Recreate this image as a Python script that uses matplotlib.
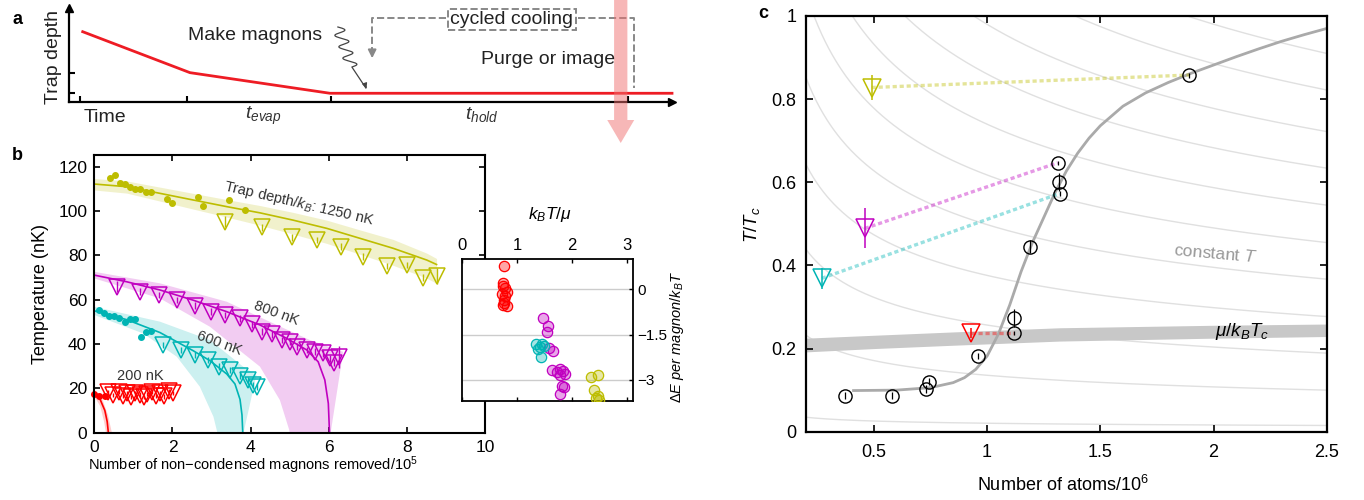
import matplotlib
matplotlib.use('Agg')
import matplotlib.pyplot as plt
from matplotlib.patches import FancyArrow
import numpy as np

plt.rcParams['font.family'] = ['Liberation Sans', 'DejaVu Sans']
plt.rcParams['mathtext.fontset'] = 'custom'
plt.rcParams['mathtext.rm'] = 'Liberation Sans'
plt.rcParams['mathtext.it'] = 'Liberation Sans:italic'

W, H = 1364, 500
YEL = '#bdbd00'
CYA = '#00b4b4'
MAG = '#c000c0'
RED = '#ff0000'

# ---------------- panel a: trap depth schedule (arbitrary units)
sched_t = [0.025, 1.025, 2.33, 5.52]
sched_depth = [0.747, 0.31, 0.09, 0.09]
a_xticks = [0, 1, 2.34, 5.11]
a_yticks = [0.09, 0.31]

# ---------------- panel b: temperature vs magnons removed (1e5)
yel_dot_x = [0.40, 0.53, 0.66, 0.78, 0.91, 1.04, 1.17, 1.32, 1.45, 1.85, 2.00, 2.66, 2.79, 3.46, 3.86]
yel_dot_y = [114.7, 116.4, 112.5, 112.0, 111.0, 110.1, 109.8, 108.5, 108.4, 105.4, 103.5, 106.2, 102.1, 104.8, 100.3]
yel_tri_x = [3.34, 4.28, 5.05, 5.71, 6.31, 6.87, 7.48, 8.00, 8.41, 8.76]
yel_tri_y = [95.2, 92.6, 88.1, 86.9, 83.9, 79.4, 75.2, 75.6, 69.9, 70.7]
yel_tri_err = [2.5, 1.5, 1.5, 1.5, 1.5, 1.5, 1.5, 1.5, 1.5, 3.5]
yel_fit_x = [0, 0.83, 1.68, 2.53, 3.39, 4.24, 5.09, 5.95, 6.80, 7.65, 8.51, 8.76]
yel_fit_y = [112.2, 111.0, 108.0, 105.0, 102.0, 99.2, 95.9, 92.2, 87.7, 83.2, 77.9, 75.9]
yel_band_hi = [114.7, 113.6, 110.8, 108.0, 105.2, 102.5, 99.4, 95.9, 91.5, 87.2, 81.0, 78.6]
yel_band_lo = [109.5, 108.1, 104.5, 100.9, 97.3, 93.6, 89.6, 85.4, 80.5, 75.5, 69.7, 67.4]

mag_tri_x = [0.59, 1.17, 1.66, 2.12, 2.58, 2.99, 3.34, 3.73, 4.03, 4.28, 4.54, 4.80, 5.01, 5.20, 5.44, 5.65, 5.86, 6.03, 6.13, 6.27]
mag_tri_y = [65.9, 63.6, 62.1, 59.8, 57.3, 54.6, 53.1, 51.6, 48.9, 45.6, 44.4, 41.8, 41.1, 38.8, 37.3, 36.5, 35.8, 33.5, 31.6, 34.3]
mag_tri_err = [2.5] + [1.5] * 18 + [5.0]
mag_fit_x = [0, 0.83, 1.68, 2.53, 3.39, 4.24, 4.92, 5.44, 5.73, 5.90, 5.99, 6.02]
mag_fit_y = [71.1, 68.1, 64.4, 59.8, 54.6, 48.6, 42.6, 37.3, 32.0, 23.8, 13.2, 0]
mag_hi_x = [0, 1.68, 3.39, 4.67, 5.52, 6.37, 6.05]
mag_hi_y = [72.6, 67.4, 59.1, 48.6, 41.8, 36.5, 0]
mag_lo_x = [0, 1.68, 2.96, 4.24, 4.75, 4.99, 5.0]
mag_lo_y = [69.6, 60.6, 47.8, 29.8, 14.7, 1.2, 0]

cya_dot_x = [0.13, 0.26, 0.38, 0.51, 0.64, 0.78, 0.91, 1.04, 1.19, 1.32, 1.44]
cya_dot_y = [55.3, 53.8, 52.8, 52.8, 51.9, 50.1, 51.1, 51.3, 43.3, 45.4, 45.7]
cya_tri_x = [1.75, 2.21, 2.58, 2.92, 3.20, 3.47, 3.73, 3.94, 4.07, 4.17]
cya_tri_y = [39.5, 37.3, 35.0, 32.8, 29.8, 28.3, 25.7, 23.8, 21.5, 20.8]
cya_fit_x = [0, 0.83, 1.68, 2.53, 2.96, 3.39, 3.60, 3.73, 3.78, 3.80]
cya_fit_y = [55.0, 51.0, 45.2, 37.0, 32.5, 26.5, 22.0, 15.0, 8.0, 0]
cya_hi_x = [0, 1.68, 2.96, 3.81, 4.15, 3.82]
cya_hi_y = [56.8, 50.1, 41.8, 29.8, 26.0, 0]
cya_lo_x = [0, 1.25, 2.11, 2.70, 3.05, 3.15]
cya_lo_y = [53.1, 44.8, 34.3, 20.8, 7.2, 0]

red_dot_x = [0.0, 0.13, 0.27]
red_dot_y = [17.5, 16.6, 16.7]
red_tri_x = [0.36, 0.49, 0.62, 0.73, 0.83, 0.94, 1.05, 1.16, 1.26, 1.36, 1.47, 1.58, 1.69, 1.79, 1.90, 2.01]
red_tri_y = [18.2, 17.0, 18.5, 16.5, 17.8, 16.2, 18.0, 17.2, 16.0, 17.5, 18.3, 16.6, 17.9, 16.4, 18.6, 17.8]
red_fit_x = [0, 0.15, 0.27, 0.33, 0.36]
red_fit_y = [17.5, 15.0, 10.0, 5.0, 0]
red_hi_x = [0, 0.2, 0.35, 0.45]
red_hi_y = [18.5, 15.5, 8.0, 0]
red_lo_x = [0, 0.15, 0.25, 0.30]
red_lo_y = [16.5, 12.0, 5.0, 0]

# ---------------- inset: energy per magnon vs kT/mu
in_red_x = [0.76, 0.75, 0.75, 0.78, 0.82, 0.72, 0.79, 0.76, 0.76, 0.82, 0.75]
in_red_y = [0.76, 0.22, 0.11, 0.03, -0.08, -0.15, -0.22, -0.35, -0.46, -0.55, -0.51]
in_mag_x = [1.48, 1.56, 1.54, 1.58, 1.65, 1.64, 1.72, 1.79, 1.84, 1.87, 1.78, 1.81, 1.85, 1.79]
in_mag_y = [-0.95, -1.21, -1.40, -1.93, -2.06, -2.67, -2.75, -2.64, -2.72, -2.80, -2.83, -3.22, -3.24, -3.47]
in_cya_x = [1.35, 1.41, 1.45, 1.38, 1.49, 1.44]
in_cya_y = [-1.81, -1.90, -1.81, -1.97, -1.87, -2.23]
in_yel_x = [2.35, 2.47, 2.40, 2.44, 2.49, 2.47]
in_yel_y = [-2.89, -2.83, -3.35, -3.61, -3.66, -3.55]

# ---------------- panel c: T/Tc vs atom number (1e6)
circ_x = [0.372, 0.578, 0.728, 0.743, 0.960, 1.118, 1.118, 1.188, 1.312, 1.317, 1.320, 1.893]
circ_y = [0.087, 0.087, 0.103, 0.120, 0.182, 0.273, 0.237, 0.445, 0.647, 0.601, 0.573, 0.858]
circ_err = [0.008, 0.008, 0.01, 0.008, 0.008, 0.022, 0.005, 0.015, 0.005, 0.022, 0.005, 0.006]
c_tri_x = [0.49, 0.46, 0.27, 0.93]
c_tri_y = [0.828, 0.489, 0.369, 0.237]
c_tri_err = [0.03, 0.048, 0.025, 0.012]
c_tri_col = [YEL, MAG, CYA, RED]
c_link_end = [11, 8, 10, 6]  # circle reached by each dotted link
curve_x = [0.41, 0.60, 0.75, 0.85, 0.90, 0.95, 1.00, 1.05, 1.10, 1.15, 1.20, 1.25, 1.30,
           1.35, 1.40, 1.45, 1.50, 1.60, 1.70, 1.80, 1.90, 2.00, 2.10, 2.20, 2.30, 2.40, 2.50]
curve_y = [0.099, 0.100, 0.106, 0.118, 0.130, 0.150, 0.182, 0.235, 0.305, 0.385, 0.455, 0.515, 0.575,
           0.627, 0.670, 0.706, 0.736, 0.783, 0.815, 0.840, 0.862, 0.882, 0.902, 0.921, 0.939, 0.955, 0.970]
mu_x = [0.2, 0.5, 0.85, 1.32, 2.0, 2.5]
mu_lo = [0.192, 0.200, 0.208, 0.218, 0.225, 0.229]
mu_hi = [0.225, 0.232, 0.240, 0.250, 0.256, 0.259]
# isotherm levels, read as T/Tc at N = 2.5e6 (Tc ~ N^(1/3))
iso_levels = [0.015, 0.100, 0.189, 0.277, 0.367, 0.455, 0.545, 0.634, 0.722, 0.822, 0.91, 1.0]


def fig_rect(x0, y0, x1, y1):
    return [x0 / W, 1 - y1 / H, (x1 - x0) / W, (y1 - y0) / H]


fig = plt.figure(figsize=(W / 100, H / 100), dpi=100)

# ================= panel a
ax_a = fig.add_axes(fig_rect(69.3, 8, 672, 101.7))
ax_a.set_xlim(-0.1, 5.52)
ax_a.set_ylim(0, 1)
for s in ['top', 'right']:
    ax_a.spines[s].set_visible(False)
for s in ['left', 'bottom']:
    ax_a.spines[s].set_linewidth(1.6)
ax_a.plot(1, 0, '>k', ms=6, transform=ax_a.transAxes, clip_on=False)
ax_a.plot(0, 1, '^k', ms=6, transform=ax_a.transAxes, clip_on=False)
ax_a.set_xticks(a_xticks)
ax_a.set_yticks(a_yticks)
ax_a.set_xticklabels([])
ax_a.set_yticklabels([])
ax_a.tick_params(direction='in', length=4, width=1.5)
ax_a.plot(sched_t, sched_depth, color='#ee1c24', lw=2, clip_on=False, zorder=3)


def pa(px, py):
    return (px - 80) / 107.3, (101.7 - py) / 93.7


ax_a.text(*pa(53, 57), 'Trap depth', rotation=90, fontsize=14, ha='center', va='center', color='#222222')
ax_a.text(*pa(105, 117), 'Time', fontsize=14, ha='center', va='center', color='#222222')
ax_a.text(*pa(263, 116), r'$t_{evap}$', fontsize=14, ha='center', va='center', color='#333333')
ax_a.text(*pa(482, 115), r'$t_{hold}$', fontsize=14, ha='center', va='center', color='#333333')
ax_a.text(*pa(255, 36), 'Make magnons', fontsize=14, ha='center', va='center', color='#222222')
ax_a.text(*pa(548, 60), 'Purge or image', fontsize=14, ha='center', va='center', color='#222222')
ax_a.text(*pa(512, 19.5), 'cycled cooling', fontsize=14, ha='center', va='center', color='#222222', zorder=5,
          bbox=dict(boxstyle='square,pad=0.12', fc='white', ec='#888888', ls='--', lw=1.4))

gx, gy = zip(*[pa(446, 18.3), pa(372.3, 18.3), pa(372.3, 50)])
ax_a.plot(gx, gy, color='#888888', ls='--', lw=1.4, clip_on=False)
ax_a.annotate('', xy=pa(372.3, 61), xytext=pa(372.3, 48), annotation_clip=False,
              arrowprops=dict(arrowstyle='-|>', color='#888888', lw=1.4, mutation_scale=12))
gx, gy = zip(*[pa(578, 18.3), pa(634.3, 18.3), pa(634.3, 88.3)])
ax_a.plot(gx, gy, color='#888888', ls='--', lw=1.4, clip_on=False)

# squiggle for "make magnons"
s = np.linspace(0, 1, 200)
sq_px = 338 + 6 * np.sin(2 * np.pi * 3.5 * s) + 14 * s
sq_py = 27 + 40 * s
tail_px = np.linspace(sq_px[-1], 366, 30)
tail_py = np.linspace(sq_py[-1], 88, 30)
qx, qy = pa(np.concatenate([sq_px, tail_px]), np.concatenate([sq_py, tail_py]))
ax_a.plot(qx, qy, color='#444444', lw=0.9, clip_on=False)
ax_a.annotate('', xy=pa(367.5, 91), xytext=pa(365, 84), annotation_clip=False,
              arrowprops=dict(arrowstyle='-|>', color='#444444', lw=0.9, mutation_scale=7))

# pink purge arrow
x0, ytop = pa(621, 0)
_, ytip = pa(621, 143)
_, yhead = pa(621, 120)
ax_a.add_patch(FancyArrow(x0, ytop, 0, ytip - ytop, width=13.3 / 107.3, head_width=27 / 107.3,
                          head_length=yhead - ytip, length_includes_head=True,
                          color='#f07070', alpha=0.5, lw=0, clip_on=False, zorder=6))
fig.text(12 / W, 1 - 20 / H, 'a', fontsize=13, fontweight='bold', va='center')

# ================= panel b
ax_b = fig.add_axes(fig_rect(94.3, 155, 485, 432.7))
ax_b.set_xlim(0, 10)
ax_b.set_ylim(0, 125.3)


def band(ax, hx, hy, lx, ly, col):
    px = list(hx) + list(lx[::-1])
    py = list(hy) + list(ly[::-1])
    ax.fill(px, py, color=col, alpha=0.2, lw=0)


ax_b.fill_between(yel_fit_x, yel_band_lo, yel_band_hi, color=YEL, alpha=0.2, lw=0)
band(ax_b, mag_hi_x, mag_hi_y, mag_lo_x, mag_lo_y, MAG)
band(ax_b, cya_hi_x, cya_hi_y, cya_lo_x, cya_lo_y, CYA)
band(ax_b, red_hi_x, red_hi_y, red_lo_x, red_lo_y, RED)

ax_b.plot(yel_fit_x, yel_fit_y, color=YEL, lw=1.2)
ax_b.plot(mag_fit_x, mag_fit_y, color=MAG, lw=1.2)
ax_b.plot(cya_fit_x, cya_fit_y, color=CYA, lw=1.2)
ax_b.plot(red_fit_x, red_fit_y, color=RED, lw=1.2)

tri_kw = dict(fmt='v', ms=12, mfc='none', mew=1.1, elinewidth=1, capsize=0)
ax_b.errorbar(yel_tri_x, yel_tri_y, yerr=yel_tri_err, mec=YEL, ecolor=YEL, **tri_kw)
ax_b.errorbar(mag_tri_x, mag_tri_y, yerr=mag_tri_err, mec=MAG, ecolor=MAG, **tri_kw)
ax_b.errorbar(cya_tri_x, cya_tri_y, yerr=1.5, mec=CYA, ecolor=CYA, **tri_kw)
ax_b.errorbar(red_tri_x, red_tri_y, yerr=1.0, mec=RED, ecolor=RED, **tri_kw)
ax_b.plot(yel_dot_x, yel_dot_y, 'o', color=YEL, ms=4)
ax_b.plot(cya_dot_x, cya_dot_y, 'o', color=CYA, ms=4)
ax_b.plot(red_dot_x, red_dot_y, 'o', color=RED, ms=4, clip_on=False)

ax_b.text(5.24, 103.2, 'Trap depth/$k_B$: 1250 nK', rotation=-13, fontsize=10.5, color='#333333',
          ha='center', va='center', rotation_mode='anchor')
ax_b.text(4.67, 54.1, '800 nK', rotation=-20, fontsize=10.5, color='#333333',
          ha='center', va='center', rotation_mode='anchor')
ax_b.text(3.2, 40.6, '600 nK', rotation=-20, fontsize=10.5, color='#333333',
          ha='center', va='center', rotation_mode='anchor')
ax_b.text(1.17, 25.8, '200 nK', fontsize=10.5, color='#333333', ha='center', va='center')

ax_b.set_xticks([0, 2, 4, 6, 8, 10])
ax_b.set_yticks([0, 20, 40, 60, 80, 100, 120])
ax_b.tick_params(direction='in', top=True, right=True, length=4, width=1.2, labelsize=12.5, pad=5)
for sp in ax_b.spines.values():
    sp.set_linewidth(1.5)
ax_b.text(0.405, -0.118, 'Number of non\u2212condensed magnons removed/10$^5$', transform=ax_b.transAxes,
          fontsize=10.5, ha='center', va='center')
ax_b.text(-0.138, 0.5, 'Temperature (nK)', transform=ax_b.transAxes, rotation=90,
          fontsize=13, ha='center', va='center')
fig.text(12 / W, 1 - 155 / H, 'b', fontsize=13, fontweight='bold', va='center')

# ================= inset
ax_in = fig.add_axes(fig_rect(462, 259, 633, 401))
ax_in.set_xlim(0, 3.11)
ax_in.set_ylim(-3.7, 1.0)
ax_in.set_facecolor('white')
for yy in [0, -1.5, -3]:
    ax_in.axhline(yy, color='#cccccc', lw=1, zorder=0)
for xs, ys, col in [(in_red_x, in_red_y, RED), (in_mag_x, in_mag_y, MAG),
                    (in_cya_x, in_cya_y, CYA), (in_yel_x, in_yel_y, YEL)]:
    ax_in.scatter(xs, ys, s=55, facecolors=matplotlib.colors.to_rgba(col, 0.35),
                  edgecolors=col, linewidths=0.9, zorder=3)
ax_in.set_xticks([0, 1, 2, 3])
ax_in.set_yticks([0, -1.5, -3])
ax_in.set_yticklabels(['0', '\u22121.5', '\u22123'])
ax_in.xaxis.tick_top()
ax_in.yaxis.tick_right()
ax_in.tick_params(direction='in', bottom=True, top=True, left=False, right=True, length=3,
                  width=1, labelsize=12, pad=4)
ax_in.tick_params(axis='y', labelsize=11, pad=3)
for sp in ax_in.spines.values():
    sp.set_linewidth(1.3)
ax_in.text(0.515, 1.31, r'$k_BT/\mu$', transform=ax_in.transAxes, fontsize=12.5,
           ha='center', va='center')
ax_in.text(1.255, 0.45, r'$\Delta E$ $per$ $magnon/k_BT$', transform=ax_in.transAxes, rotation=90,
           fontsize=10.5, ha='center', va='center')

# ================= panel c
ax_c = fig.add_axes(fig_rect(806, 16, 1326.7, 431.7))
ax_c.set_xlim(0.2, 2.5)
ax_c.set_ylim(0, 1)
nn = np.linspace(0.2, 2.5, 300)
for lev in iso_levels:
    ax_c.plot(nn, lev * (2.5 / nn) ** (1 / 3), color='#e0e0e0', lw=1, zorder=0)
ax_c.fill_between(mu_x, mu_lo, mu_hi, color='#c8c8c8', lw=0, zorder=1)
ax_c.plot(curve_x, curve_y, color='#aaaaaa', lw=2, zorder=2)
for i in range(len(c_tri_x)):
    j = c_link_end[i]
    ax_c.plot([c_tri_x[i], circ_x[j]], [c_tri_y[i], circ_y[j]], color=c_tri_col[i], alpha=0.4,
              lw=2.4, ls=(0, (1.25, 0.85)), zorder=2)
    ax_c.errorbar([c_tri_x[i]], [c_tri_y[i]], yerr=[c_tri_err[i]], fmt='v', ms=13.5, mfc='none',
                  mec=c_tri_col[i], ecolor=c_tri_col[i], mew=1.1, elinewidth=1.1, capsize=0, zorder=4)
ax_c.errorbar(circ_x, circ_y, yerr=circ_err, fmt='o', ms=9.5, mfc='none', mec='k', ecolor='k',
              mew=1, elinewidth=0.9, capsize=0, zorder=5)
ax_c.text(2.01, 0.429, 'constant $T$', rotation=-5, fontsize=12.5, color='#999999',
          ha='center', va='center', rotation_mode='anchor')
ax_c.text(2.127, 0.241, r'$\mu/k_BT_c$', fontsize=13.5, ha='center', va='center', zorder=6)

ax_c.set_xticks([0.5, 1, 1.5, 2, 2.5])
ax_c.set_xticklabels(['0.5', '1', '1.5', '2', '2.5'])
ax_c.set_yticks([0, 0.2, 0.4, 0.6, 0.8, 1])
ax_c.set_yticklabels(['0', '0.2', '0.4', '0.6', '0.8', '1'])
ax_c.tick_params(direction='in', top=True, right=True, length=5, width=1.2, labelsize=13)
ax_c.tick_params(axis='x', pad=9)
ax_c.tick_params(axis='y', pad=7)
for sp in ax_c.spines.values():
    sp.set_linewidth(1.6)
ax_c.text(0.494, -0.128, 'Number of atoms/10$^6$', transform=ax_c.transAxes, fontsize=13,
          ha='center', va='center')
ax_c.text(-0.104, 0.497, r'$T/T_c$', transform=ax_c.transAxes, rotation=90, fontsize=13.5,
          ha='center', va='center')
fig.text(758 / W, 1 - 14 / H, 'c', fontsize=13, fontweight='bold', va='center')

fig.savefig('out.png', dpi=100)
